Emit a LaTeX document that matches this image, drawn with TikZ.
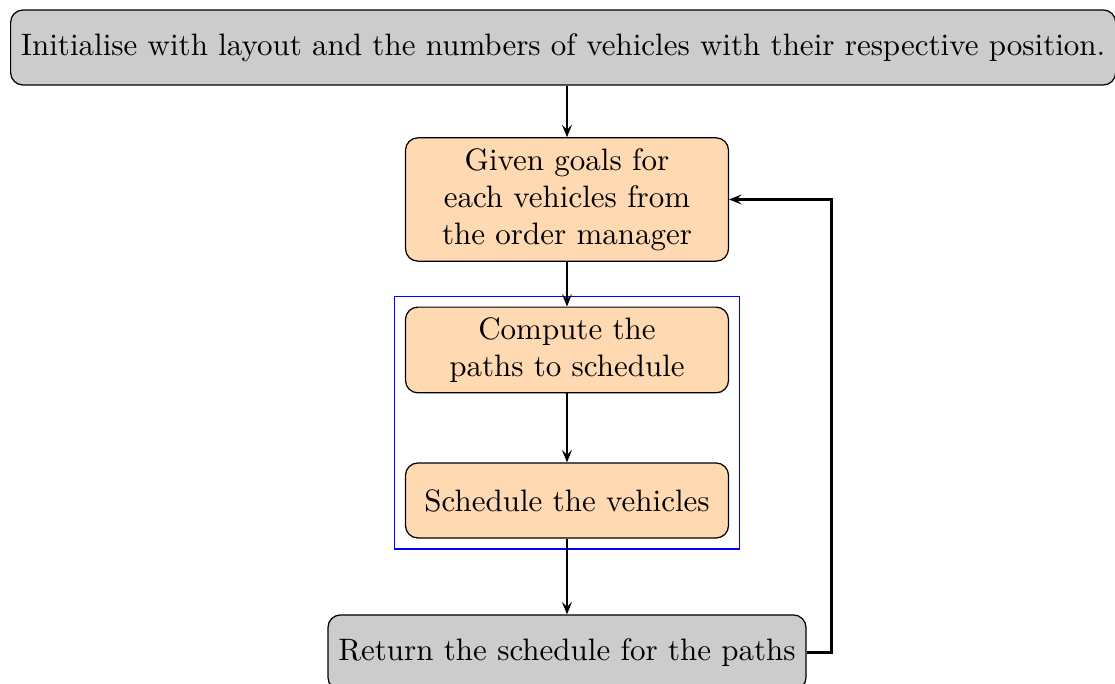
\documentclass[tikz,border=0pt]{standalone}
\usetikzlibrary{arrows.meta,fit}
\begin{document}
\begin{tikzpicture}[x=0.32258pt,y=-0.32258pt,
  graybox/.style={draw, rounded corners, fill=black!20, minimum height=24.2pt, align=center},
  orangebox/.style={draw, rounded corners, fill=orange!30, minimum width=104.2pt, minimum height=24.2pt, align=center},
  conn/.style={thick, -{Stealth[length=4pt,width=3.2pt,inset=1.6pt]}},
  group/.style={draw=blue, inner sep=3.33pt}]
\useasboundingbox (0,0) rectangle (1115,684);
\node[graybox, anchor=west] (init) at (10,47.5) {Initialise with layout and the numbers of vehicles with their respective position.};
\node[orangebox] (given) at (567,199.5) {Given goals for\\each vehicles from\\the order manager};
\node[orangebox] (compute) at (567,350) {Compute the\\paths to schedule};
\node[orangebox] (schedule) at (567,500.5) {Schedule the vehicles};
\node[graybox] (return) at (567,652.5) {Return the schedule for the paths};
\node[group, fit=(compute)(schedule)] (grp) {};
\draw[conn] (init.south -| given.north) -- (given.north);
\draw[conn] (given) -- (compute);
\draw[conn] (compute) -- (schedule);
\draw[conn] (schedule) -- (return);
\draw[conn] (return.east) -- ++(25,0) |- (given.east);
\end{tikzpicture}
\end{document}
